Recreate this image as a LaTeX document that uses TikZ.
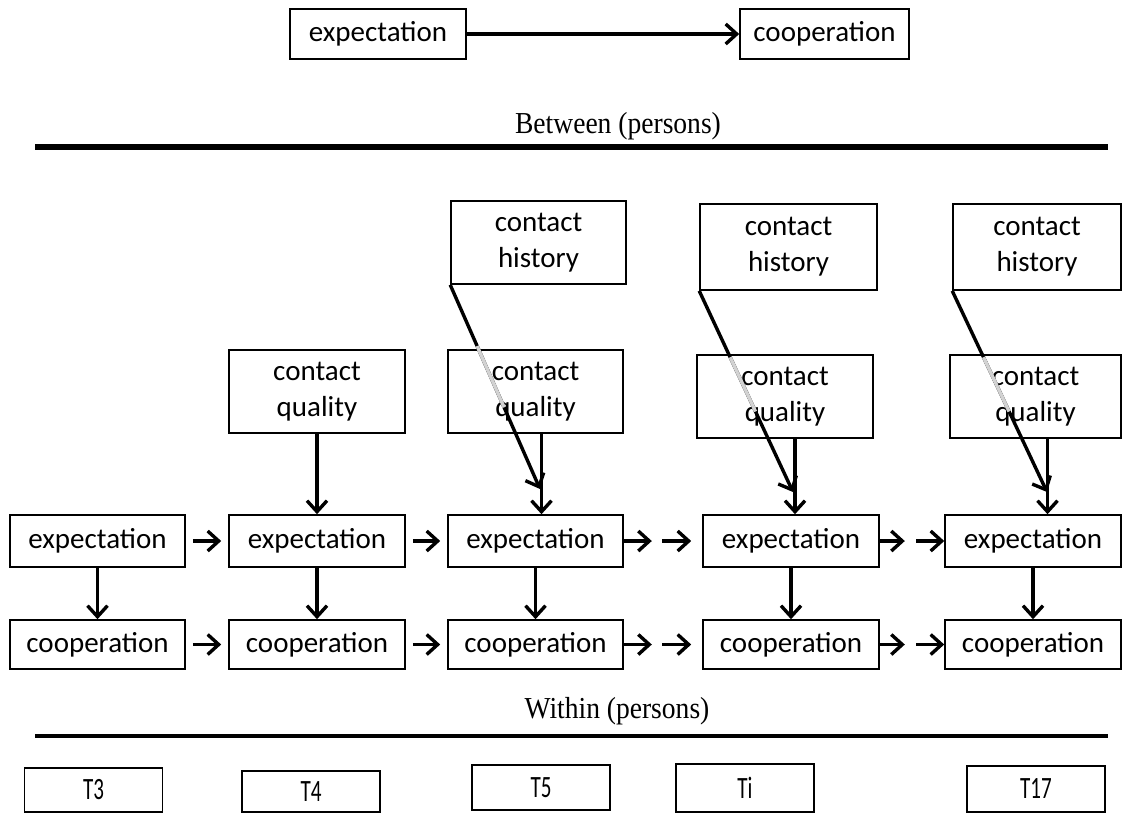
\documentclass[tikz,border=0pt]{standalone}
\usepackage{fontspec}
\setmainfont{Carlito}
\newfontfamily\labelfont{Liberation Serif}
\usetikzlibrary{arrows.meta,calc}
\newcommand{\tlab}[1]{\scalebox{0.68}[1]{#1}}
\begin{document}
\begin{tikzpicture}[x=1pt,y=-1pt,
  box/.style={draw,line width=1.6pt,fill=white,inner sep=0pt,align=center,
    font=\fontsize{29}{36}\selectfont},
  tbox/.style={draw,line width=1.6pt,inner sep=0pt,minimum width=138pt,
    minimum height=44pt,font=\fontsize{31}{32}\selectfont},
  arr/.style={line width=3.4pt,-{Straight Barb[length=11pt,width=20pt,line width=3.4pt]}},
  bar/.style={line width=#1}]
\useasboundingbox (0,0) rectangle (1123,815);
% top
\node[box,minimum width=176pt,minimum height=50pt] (te) at (378,34) {expectation};
\node[box,minimum width=169pt,minimum height=50pt] (tc) at (824.5,34) {cooperation};
\draw[arr] (te.east) -- (tc.west);
% between
\node[font=\labelfont\fontsize{29}{30}\selectfont] (btw) at (618,126) {\scalebox{0.95}[1.05]{Between (persons)}};
\coordinate (b1) at (35,147);
\coordinate (b2) at (1108,147);
\draw[bar=6pt] (b1) -- (b2);
% history boxes
\node[box,minimum width=175pt,minimum height=83pt] (ch1) at (538.5,242.5) {contact\\history};
\node[box,minimum width=177pt,minimum height=86pt] (ch2) at (788.5,247) {contact\\history};
\node[box,minimum width=168pt,minimum height=86pt] (ch3) at (1037,247) {contact\\history};
\coordinate (h1) at (540,489);
\coordinate (h2) at (793,492);
\coordinate (h3) at (1047,492);
% quality
\node[box,minimum width=176pt,minimum height=83pt] (cq1) at (317,391.5) {contact\\quality};
\node[box,minimum width=175pt,minimum height=83pt,fill=none] (cq2) at (535.5,391.5) {contact\\quality};
\node[box,minimum width=176pt,minimum height=83pt,fill=none] (cq3) at (785,396.5) {contact\\quality};
\node[box,minimum width=171pt,minimum height=83pt,fill=none] (cq4) at (1035.5,396.5) {contact\\quality};
\draw[arr] (ch1.south west) -- (h1);
\draw[arr] (ch2.south west) -- (h2);
\draw[arr] (ch3.south west) -- (h3);
\draw[line width=3.4pt,gray!35] ($(ch1.south west)!0.3!(h1)$) -- ($(ch1.south west)!0.6!(h1)$);
\draw[line width=3.4pt,gray!35] ($(ch2.south west)!0.33!(h2)$) -- ($(ch2.south west)!0.6!(h2)$);
\draw[line width=3.4pt,gray!35] ($(ch3.south west)!0.33!(h3)$) -- ($(ch3.south west)!0.6!(h3)$);
% expectation row
\foreach \n/\x/\w in {0/97.5/175,1/317/176,2/535.5/175,3/791/176,4/1033/176}{
  \node[box,minimum width=\w pt,minimum height=52pt] (e\n) at (\x,541) {expectation};
  \node[box,minimum width=\w pt,minimum height=49pt] (c\n) at (\x,644.5) {cooperation};
  \draw[arr] (e\n.south) -- (c\n.north);
}
\draw[arr] (cq1.south) -- (e1.north);
\draw[arr] ([xshift=6pt]cq2.south) -- ([xshift=6pt]cq2.south |- e2.north);
\draw[arr] ([xshift=10pt]cq3.south) -- ([xshift=10pt]cq3.south |- e3.north);
\draw[arr] ([xshift=12pt]cq4.south) -- ([xshift=12pt]cq4.south |- e4.north);
% horizontal arrows
\foreach \r in {e,c}{
  \draw[arr] ([xshift=7pt]\r0.east) -- ([xshift=-7pt]\r1.west);
  \draw[arr] ([xshift=7pt]\r1.east) -- ([xshift=-7pt]\r2.west);
  \draw[arr] (\r2.east) -- ([xshift=28pt]\r2.east);
  \draw[arr] ([xshift=-40pt]\r3.west) -- ([xshift=-11pt]\r3.west);
  \draw[arr] (\r3.east) -- ([xshift=25pt]\r3.east);
  \draw[arr] ([xshift=-28pt]\r4.west) -- (\r4.west);
}
% within
\node[font=\labelfont\fontsize{29}{30}\selectfont] (win) at (617,711) {\scalebox{0.95}[1.05]{Within (persons)}};
\coordinate (w1) at (35,736);
\coordinate (w2) at (1108,736);
\draw[bar=4.5pt] (w1) -- (w2);
% T boxes
\node[tbox] (t3) at (93.5,790) {\tlab{T3}};
\node[tbox,minimum height=41pt] (t4) at (311,791.5) {\tlab{T4}};
\node[tbox,minimum height=45pt] (t5) at (541,787.5) {\tlab{T5}};
\node[tbox,minimum height=48pt] (ti) at (745,788) {\tlab{Ti}};
\node[tbox,minimum height=46pt] (t17) at (1036,789) {\tlab{T17}};
\end{tikzpicture}
\end{document}
